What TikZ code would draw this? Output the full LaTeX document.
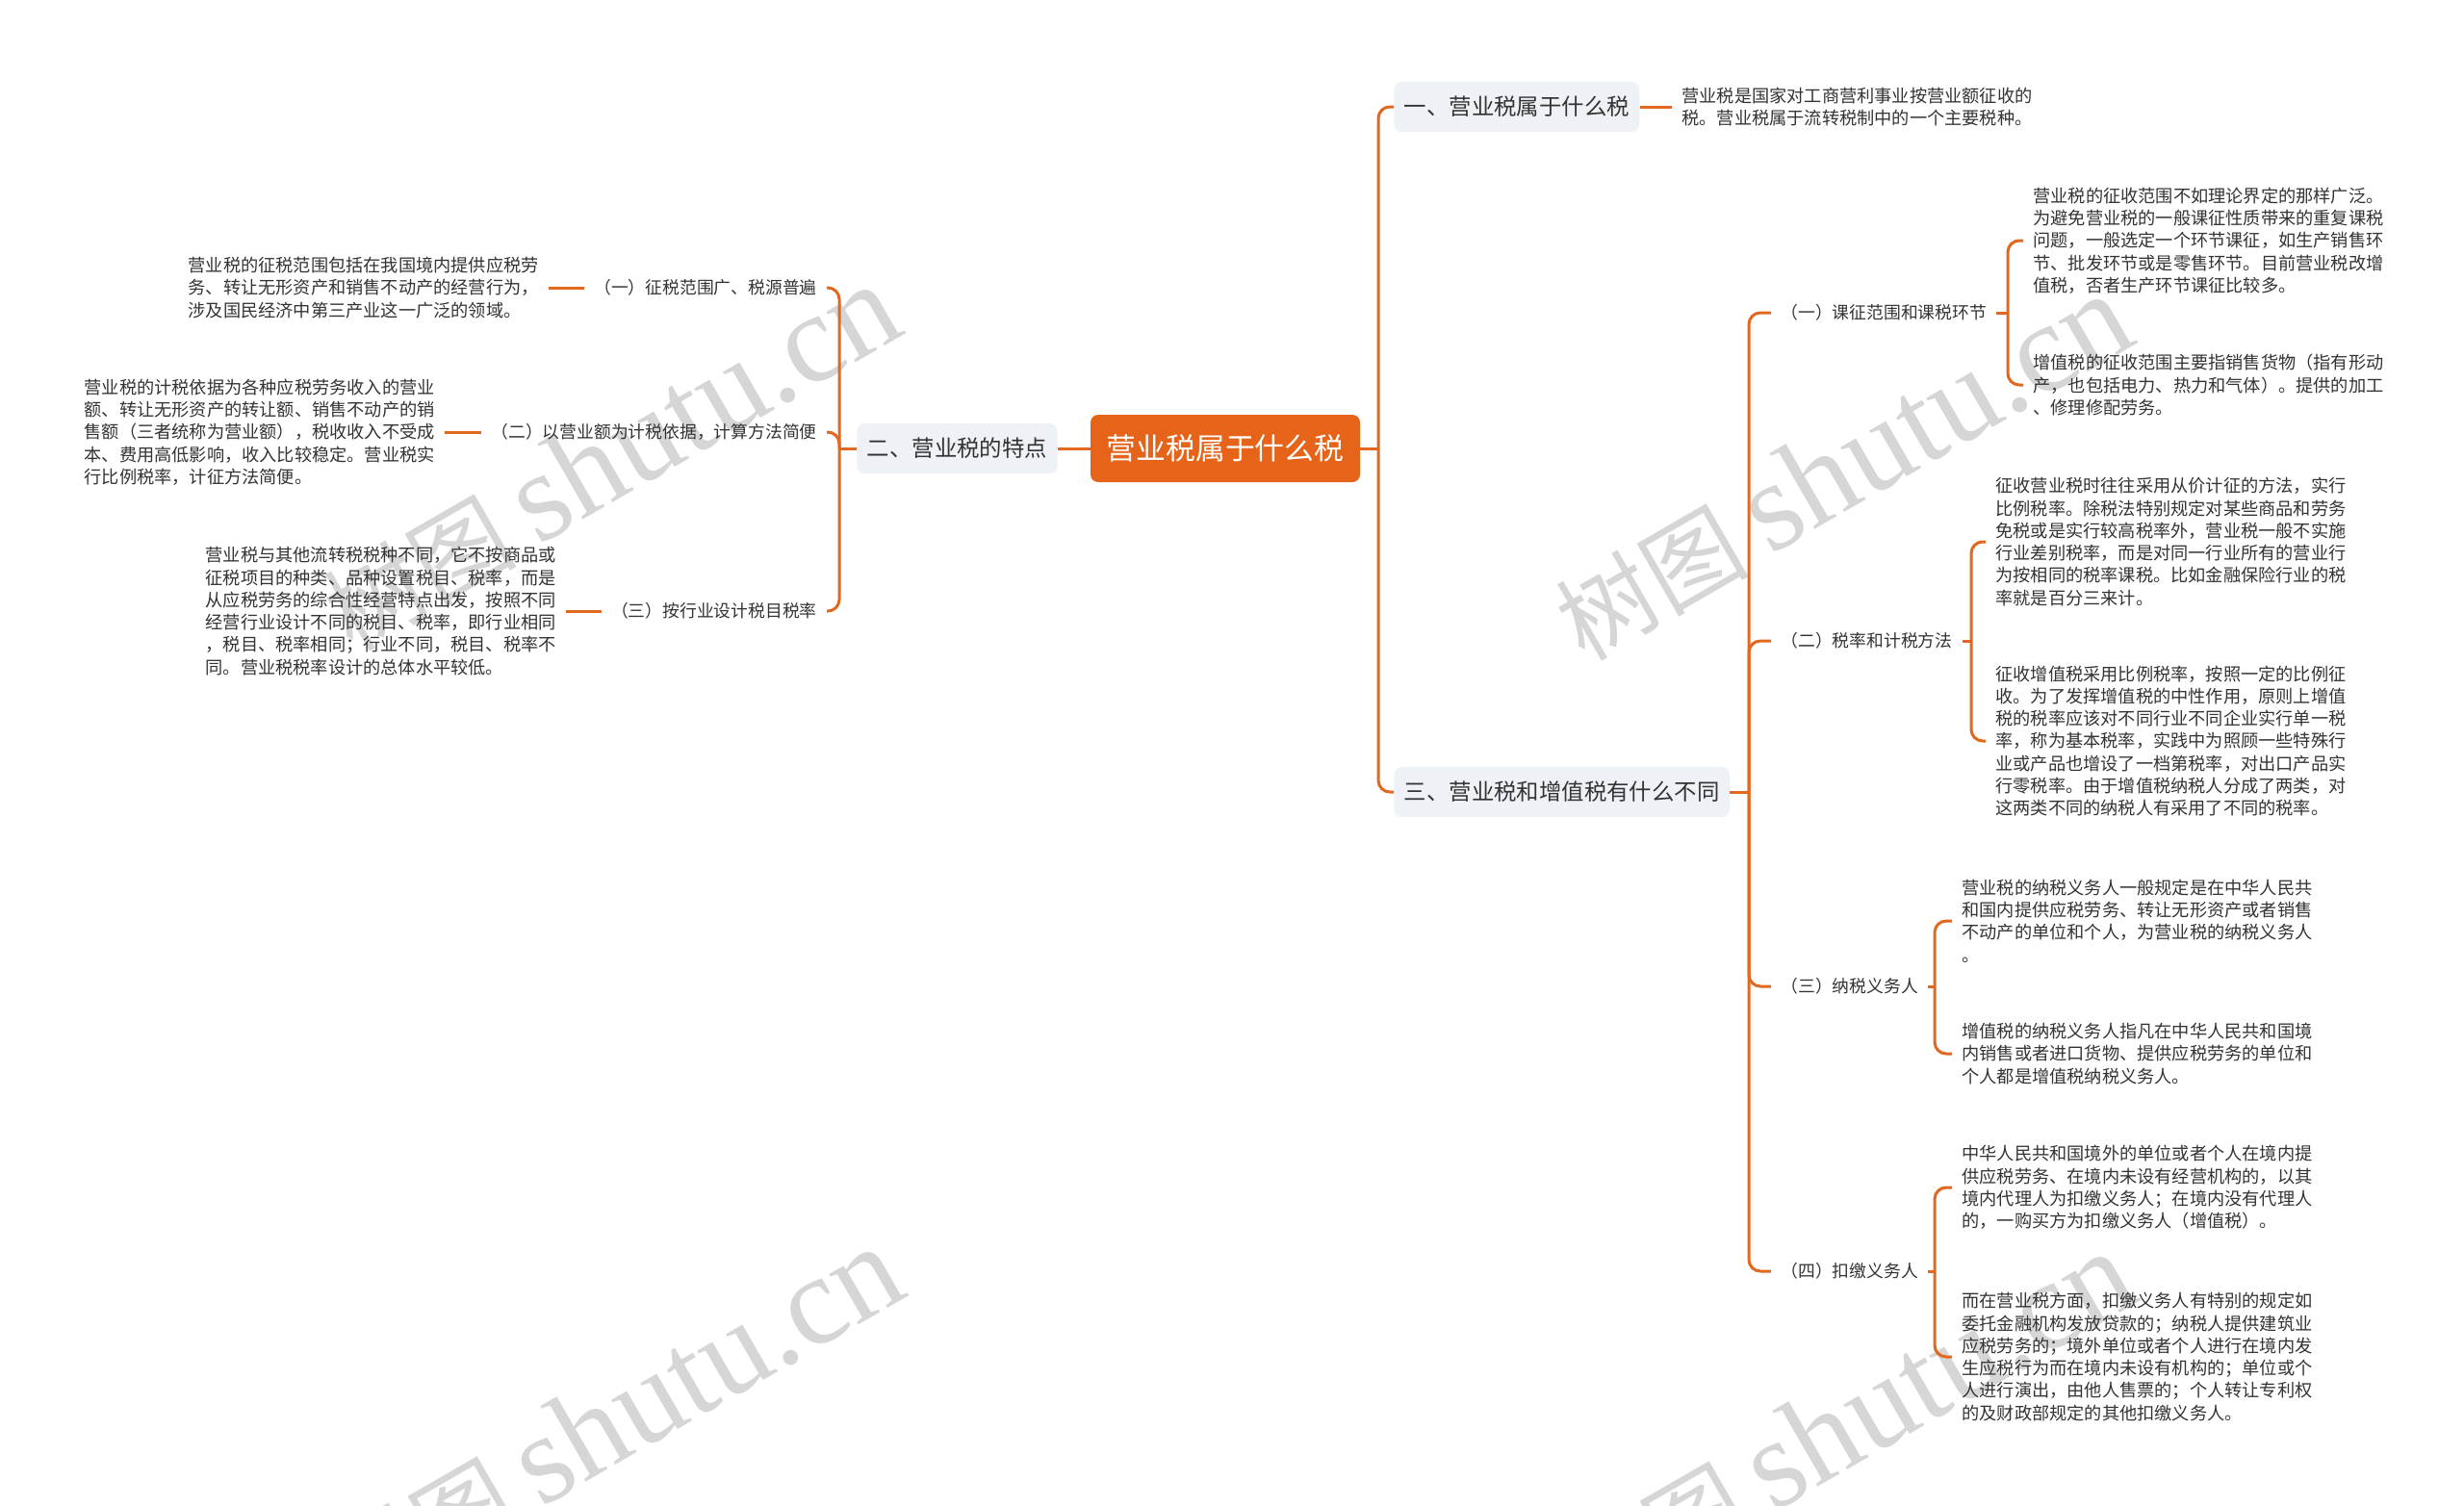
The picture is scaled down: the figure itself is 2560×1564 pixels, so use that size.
\documentclass[tikz,border=0pt]{standalone}
\usepackage{fontspec}
\setmainfont{Noto Sans CJK SC}
\newfontfamily\wmserif{Liberation Serif}
\usetikzlibrary{positioning}
\definecolor{branch}{RGB}{226,104,32}
\definecolor{rootfill}{RGB}{230,100,26}
\definecolor{topicfill}{RGB}{238,241,245}
\definecolor{ink}{RGB}{51,51,51}
\definecolor{markgray}{RGB}{214,214,214}

\begin{document}
\begin{tikzpicture}[
  x=0.5pt, y=-0.5pt,
  root/.style   = {fill=rootfill, text=white, rounded corners=4pt,
                   minimum width=140pt, minimum height=35pt, inner sep=0pt,
                   font=\fontsize{15.4pt}{18pt}\selectfont},
  topic/.style  = {fill=topicfill, text=ink, rounded corners=4pt,
                   minimum height=26pt, inner xsep=5.25pt, inner ysep=0pt,
                   font=\fontsize{11.7pt}{14pt}\selectfont},
  sub/.style    = {text=ink, inner xsep=5pt, inner ysep=2pt,
                   font=\fontsize{8.9pt}{11pt}\selectfont},
  leaf/.style   = {text=ink, align=left, inner xsep=5pt, inner ysep=1pt,
                   font=\fontsize{9.1pt}{11.65pt}\selectfont},
  link/.style   = {draw=branch, line width=1.5pt, rounded corners=6pt},
  wmark/.style  = {text=markgray, rotate=30, anchor=base east, inner sep=0pt},
]
\fill[white] (0,0) rectangle (2560,1564);
\useasboundingbox (0,0) rectangle (2560,1564);

% Watermarks behind everything
\node[wmark] (wm1) at (944,345)   {\fontsize{50pt}{50pt}\selectfont 树图 \wmserif\fontsize{66pt}{66pt}\selectfont shutu.cn};
\node[wmark] (wm2) at (2224,355)  {\fontsize{50pt}{50pt}\selectfont 树图 \wmserif\fontsize{66pt}{66pt}\selectfont shutu.cn};
\node[wmark] (wm3) at (947,1345)  {\fontsize{50pt}{50pt}\selectfont 树图 \wmserif\fontsize{66pt}{66pt}\selectfont shutu.cn};
\node[wmark] (wm4) at (2227,1350) {\fontsize{50pt}{50pt}\selectfont 树图 \wmserif\fontsize{66pt}{66pt}\selectfont shutu.cn};

% Root at centre
\node[root] (root) at (1273,466) {营业税属于什么税};

% Main topics
\node[topic, anchor=west] (t1) at (1448,111) {一、营业税属于什么税};
\node[topic, anchor=east] (t2) at (1099,466) {二、营业税的特点};
\node[topic, anchor=west] (t3) at (1448,823) {三、营业税和增值税有什么不同};

% Topic one: its note
\node[leaf, anchor=west] (l1) at (1737,111) {营业税是国家对工商营利事业按营业额征收的\\税。营业税属于流转税制中的一个主要税种。};

% Topic two: features, placed to the left
\node[sub, anchor=east] (ls1) at (859,299) {（一）征税范围广、税源普遍};
\node[sub, anchor=east] (ls2) at (859,449) {（二）以营业额为计税依据，计算方法简便};
\node[sub, anchor=east] (ls3) at (859,635) {（三）按行业设计税目税率};

\node[leaf, anchor=east] (ll1) at (570,299) {营业税的征税范围包括在我国境内提供应税劳\\务、转让无形资产和销售不动产的经营行为，\\涉及国民经济中第三产业这一广泛的领域。};
\node[leaf, anchor=east] (ll2) at (462,449) {营业税的计税依据为各种应税劳务收入的营业\\额、转让无形资产的转让额、销售不动产的销\\售额（三者统称为营业额），税收收入不受成\\本、费用高低影响，收入比较稳定。营业税实\\行比例税率，计征方法简便。};
\node[leaf, anchor=east] (ll3) at (588,635) {营业税与其他流转税税种不同，它不按商品或\\征税项目的种类、品种设置税目、税率，而是\\从应税劳务的综合性经营特点出发，按照不同\\经营行业设计不同的税目、税率，即行业相同\\，税目、税率相同；行业不同，税目、税率不\\同。营业税税率设计的总体水平较低。};

% Topic three: differences
\node[sub, anchor=west] (s1) at (1840,325)  {（一）课征范围和课税环节};
\node[sub, anchor=west] (s2) at (1840,666)  {（二）税率和计税方法};
\node[sub, anchor=west] (s3) at (1840,1025) {（三）纳税义务人};
\node[sub, anchor=west] (s4) at (1840,1321) {（四）扣缴义务人};

\node[leaf, anchor=west] (l11) at (2102,250) {营业税的征收范围不如理论界定的那样广泛。\\为避免营业税的一般课征性质带来的重复课税\\问题，一般选定一个环节课征，如生产销售环\\节、批发环节或是零售环节。目前营业税改增\\值税，否者生产环节课征比较多。};
\node[leaf, anchor=west] (l12) at (2102,400) {增值税的征收范围主要指销售货物（指有形动\\产，也包括电力、热力和气体）。提供的加工\\、修理修配劳务。};
\node[leaf, anchor=west] (l21) at (2063,563) {征收营业税时往往采用从价计征的方法，实行\\比例税率。除税法特别规定对某些商品和劳务\\免税或是实行较高税率外，营业税一般不实施\\行业差别税率，而是对同一行业所有的营业行\\为按相同的税率课税。比如金融保险行业的税\\率就是百分三来计。};
\node[leaf, anchor=west] (l22) at (2063,770) {征收增值税采用比例税率，按照一定的比例征\\收。为了发挥增值税的中性作用，原则上增值\\税的税率应该对不同行业不同企业实行单一税\\率，称为基本税率，实践中为照顾一些特殊行\\业或产品也增设了一档第税率，对出口产品实\\行零税率。由于增值税纳税人分成了两类，对\\这两类不同的纳税人有采用了不同的税率。};
\node[leaf, anchor=west] (l31) at (2028,957) {营业税的纳税义务人一般规定是在中华人民共\\和国内提供应税劳务、转让无形资产或者销售\\不动产的单位和个人，为营业税的纳税义务人\\。};
\node[leaf, anchor=west] (l32) at (2028,1095) {增值税的纳税义务人指凡在中华人民共和国境\\内销售或者进口货物、提供应税劳务的单位和\\个人都是增值税纳税义务人。};
\node[leaf, anchor=west] (l41) at (2028,1234) {中华人民共和国境外的单位或者个人在境内提\\供应税劳务、在境内未设有经营机构的，以其\\境内代理人为扣缴义务人；在境内没有代理人\\的，一购买方为扣缴义务人（增值税）。};
\node[leaf, anchor=west] (l42) at (2028,1410) {而在营业税方面，扣缴义务人有特别的规定如\\委托金融机构发放贷款的；纳税人提供建筑业\\应税劳务的；境外单位或者个人进行在境内发\\生应税行为而在境内未设有机构的；单位或个\\人进行演出，由他人售票的；个人转让专利权\\的及财政部规定的其他扣缴义务人。};

% Junction points of the brackets
\coordinate (jr)  at (1432,466);
\coordinate (jl)  at (872,466);
\coordinate (j3)  at (1817,823);
\coordinate (js1) at (2086,325);
\coordinate (js2) at (2048,666);
\coordinate (js3) at (2010,1025);
\coordinate (js4) at (2010,1321);

% Connectors
\draw[link] (root.east) -- (jr);
\draw[link] (jr) |- (t1.west);
\draw[link] (jr) |- (t3.west);
\draw[link] (root.west) -- (t2.east);
\draw[link] (t1.east) -- (l1.west);

\draw[link] (t2.west) -- (jl);
\foreach \c in {ls1,ls2,ls3} \draw[link] (jl) |- (\c.east);
\draw[link] (ls1.west) -- (ll1.east);
\draw[link] (ls2.west) -- (ll2.east);
\draw[link] (ls3.west) -- (ll3.east);

\draw[link] (t3.east) -- (j3);
\foreach \c in {s1,s2,s3,s4} \draw[link] (j3) |- (\c.west);

\draw[link] (s1.east) -- (js1);
\draw[link] (js1) |- (l11.west);
\draw[link] (js1) |- (l12.west);
\draw[link] (s2.east) -- (js2);
\draw[link] (js2) |- (l21.west);
\draw[link] (js2) |- (l22.west);
\draw[link] (s3.east) -- (js3);
\draw[link] (js3) |- (l31.west);
\draw[link] (js3) |- (l32.west);
\draw[link] (s4.east) -- (js4);
\draw[link] (js4) |- (l41.west);
\draw[link] (js4) |- (l42.west);
\end{tikzpicture}
\end{document}
